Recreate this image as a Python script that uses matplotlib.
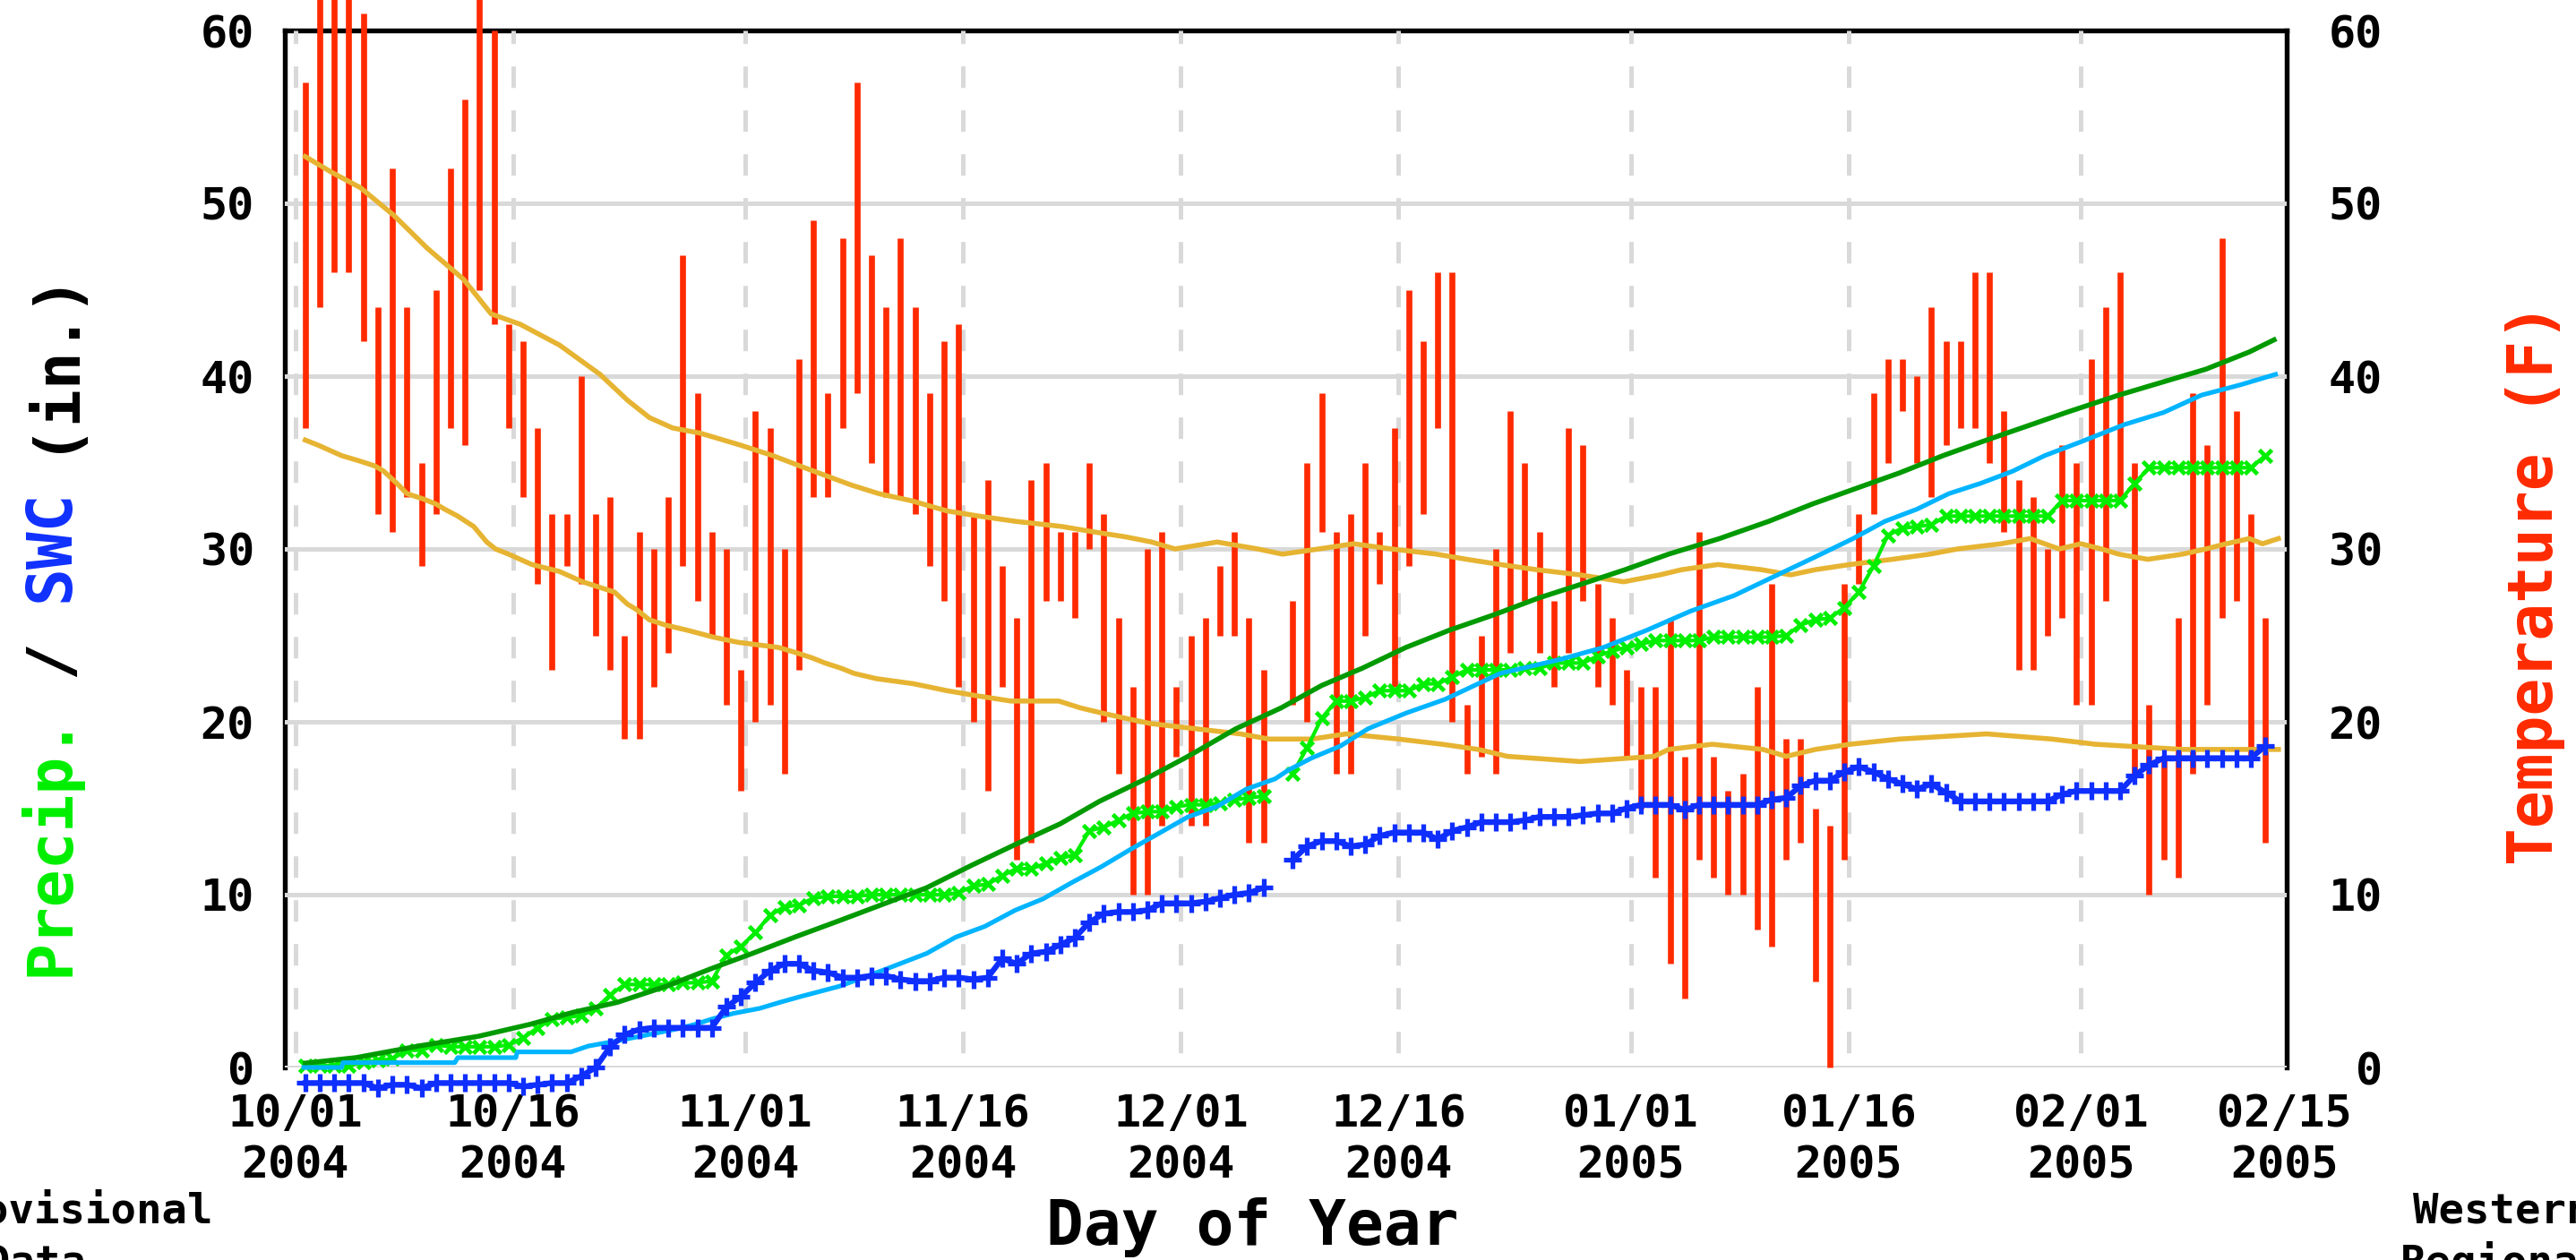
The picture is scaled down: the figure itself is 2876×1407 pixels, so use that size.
import numpy as np
import pandas as pd
import matplotlib
matplotlib.use("Agg")
import matplotlib.pyplot as plt

plt.rcParams['font.family'] = ['DejaVu Sans Mono']
plt.rcParams['font.weight'] = 'bold'

nan = np.nan

# ---- daily observations, 10/01/2004 .. 02/13/2005 ----
start = pd.Timestamp("2004-10-01")
obs_dates = pd.date_range(start, periods=136, freq="D")

tmax = [57, 64, 64, 64, 61, 44, 52, 44, 35, 45,
        52, 56, 64, 60, 43, 42, 37, 32, 32, 40,
        32, 33, 25, 31, 30, 33, 47, 39, 31, 30,
        23, 38, 37, 30, 41, 49, 39, 48, 57, 47,
        44, 48, 44, 39, 42, 43, 32, 34, 29, 26,
        34, 35, 31, 31, 35, 32, 26, 22, 30, 31,
        22, 25, 26, 29, 31, 26, 23, nan, 27, 35,
        39, 31, 32, 35, 31, 37, 45, 42, 46, 46,
        21, 25, 30, 38, 35, 31, 27, 37, 36, 28,
        26, 23, 22, 22, 26, 18, 31, 18, 16, 17,
        22, 28, 19, 19, 15, 14, 28, 32, 39, 41,
        41, 40, 44, 42, 42, 46, 46, 38, 34, 33,
        30, 36, 35, 41, 44, 46, 35, 21, 18, 26,
        39, 36, 48, 38, 32, 26]

tmin = [37, 44, 46, 46, 42, 32, 31, 33, 29, 32,
        37, 36, 45, 43, 37, 33, 28, 23, 29, 28,
        25, 23, 19, 19, 22, 24, 29, 27, 25, 21,
        16, 20, 21, 17, 23, 33, 33, 37, 39, 35,
        33, 33, 32, 29, 27, 22, 20, 16, 22, 12,
        13, 27, 27, 26, 30, 20, 17, 10, 10, 14,
        18, 14, 14, 25, 25, 13, 13, nan, 21, 20,
        31, 17, 17, 25, 28, 22, 29, 32, 37, 20,
        17, 18, 17, 24, 27, 24, 22, 24, 27, 22,
        21, 18, 15, 11, 6, 4, 12, 11, 10, 10,
        8, 7, 12, 13, 5, 0, 12, 28, 32, 35,
        38, 35, 33, 36, 37, 37, 35, 31, 23, 23,
        25, 26, 21, 21, 27, 33, 17, 10, 12, 11,
        17, 21, 26, 27, 18, 13]

precip = [0.1, 0.1, 0.1, 0.1, 0.3, 0.4, 0.5, 1.0, 1.0, 1.3,
          1.2, 1.2, 1.2, 1.2, 1.3, 1.7, 2.3, 2.8, 2.9, 3.0,
          3.4, 4.2, 4.8, 4.8, 4.8, 4.8, 4.9, 4.9, 5.0, 6.5,
          7.0, 7.8, 8.8, 9.3, 9.4, 9.8, 9.9, 9.9, 9.9, 10.0,
          10.0, 10.0, 10.0, 10.0, 10.0, 10.1, 10.5, 10.6, 11.1, 11.5,
          11.5, 11.8, 12.1, 12.3, 13.7, 13.9, 14.3, 14.7, 14.8, 14.8,
          15.1, 15.2, 15.2, 15.3, 15.5, 15.6, 15.7, nan, 17.0, 18.5,
          20.2, 21.2, 21.2, 21.4, 21.8, 21.8, 21.8, 22.2, 22.2, 22.6,
          23.0, 23.0, 23.0, 23.0, 23.1, 23.1, 23.4, 23.4, 23.4, 23.8,
          24.1, 24.3, 24.5, 24.7, 24.7, 24.7, 24.7, 24.9, 24.9, 24.9,
          24.9, 24.9, 25.0, 25.6, 25.9, 26.0, 26.6, 27.5, 29.0, 30.8,
          31.2, 31.3, 31.4, 31.9, 31.9, 31.9, 31.9, 31.9, 31.9, 31.9,
          31.9, 32.8, 32.8, 32.8, 32.8, 32.8, 33.8, 34.7, 34.7, 34.7,
          34.7, 34.7, 34.7, 34.7, 34.7, 35.4]

swe = [-0.9, -0.9, -0.9, -0.9, -0.9, -1.2, -1.0, -1.0, -1.2, -0.9,
       -0.9, -0.9, -0.9, -0.9, -0.9, -1.1, -1.0, -0.9, -0.9, -0.5,
       0.0, 1.2, 1.9, 2.2, 2.3, 2.3, 2.3, 2.3, 2.3, 3.5,
       4.1, 4.9, 5.6, 6.0, 6.0, 5.6, 5.5, 5.2, 5.2, 5.3,
       5.3, 5.1, 5.0, 5.0, 5.2, 5.2, 5.1, 5.2, 6.3, 6.0,
       6.6, 6.7, 7.1, 7.5, 8.4, 8.9, 9.0, 9.0, 9.1, 9.5,
       9.5, 9.5, 9.6, 9.8, 10.0, 10.1, 10.4, nan, 12.0, 12.8,
       13.1, 13.1, 12.8, 12.9, 13.4, 13.6, 13.6, 13.6, 13.2, 13.7,
       13.9, 14.2, 14.2, 14.2, 14.3, 14.5, 14.5, 14.5, 14.6, 14.7,
       14.7, 15.0, 15.2, 15.2, 15.2, 14.9, 15.2, 15.2, 15.2, 15.2,
       15.2, 15.5, 15.6, 16.3, 16.6, 16.6, 17.1, 17.4, 17.1, 16.7,
       16.4, 16.1, 16.4, 15.9, 15.4, 15.4, 15.4, 15.4, 15.4, 15.4,
       15.4, 15.8, 16.0, 16.0, 16.0, 16.0, 16.9, 17.5, 17.9, 17.9,
       17.9, 17.9, 17.9, 17.9, 17.9, 18.6]

# ---- normals (day = days after 10/01 00:00) ----
norm_tmax_day = [0.7, 2.5, 4.5, 6.8, 9.1, 11.6, 13.5, 15.5, 18.2, 21.0,
                 22.9, 24.4, 26.0, 27.9, 30.7, 32.9, 35.4, 38.3, 40.2, 42.4,
                 44.9, 47.1, 49.6, 52.8, 54.9, 57.2, 59.0, 60.6, 63.5, 66.3,
                 68.0, 70.5, 72.9, 75.5, 78.6, 80.7, 83.0, 85.5, 88.5, 91.5,
                 94.0, 95.5, 98.0, 101.0, 103.0, 104.7, 107.1, 110.0, 112.6, 114.5,
                 117.5, 119.5, 120.5, 121.5, 123.0, 124.4, 125.6, 127.6, 130.0, 131.6,
                 133.0, 134.6, 135.5, 136.6]
norm_tmax = [52.7, 51.8, 50.9, 49.3, 47.4, 45.6, 43.6, 43.0, 41.8, 40.1,
             38.6, 37.6, 37.0, 36.7, 36.0, 35.4, 34.6, 33.7, 33.2, 32.8,
             32.2, 31.9, 31.6, 31.3, 31.0, 30.7, 30.4, 30.0, 30.4, 30.0,
             29.7, 30.0, 30.3, 30.0, 29.7, 29.4, 29.1, 28.8, 28.5, 28.1,
             28.5, 28.8, 29.1, 28.8, 28.5, 28.8, 29.1, 29.4, 29.7, 30.0,
             30.3, 30.6, 30.3, 30.0, 30.3, 30.0, 29.7, 29.4, 29.7, 30.0,
             30.3, 30.6, 30.3, 30.6]

norm_tmin_day = [0.7, 1.6, 2.4, 3.2, 4.4, 5.5, 6.1, 7.0, 7.7, 8.8,
                 9.7, 10.3, 11.2, 12.3, 13.2, 13.8, 14.7, 16.3, 18.2, 19.8,
                 20.9, 22.0, 22.9, 23.5, 24.4, 25.5, 27.0, 28.8, 30.5, 33.3,
                 34.5, 35.6, 36.5, 37.6, 38.5, 40.0, 42.6, 44.9, 47.0, 49.3,
                 52.6, 54.1, 55.6, 57.2, 58.9, 62.0, 65.1, 67.1, 70.0, 72.4,
                 76.0, 79.0, 81.5, 83.5, 88.5, 93.6, 94.6, 97.6, 101.1, 102.7,
                 104.7, 107.1, 110.5, 116.5, 121.0, 124.0, 130.0, 136.6]
norm_tmin = [36.3, 36.0, 35.7, 35.4, 35.1, 34.8, 34.5, 33.8, 33.2, 32.9,
             32.6, 32.3, 31.9, 31.3, 30.4, 30.0, 29.7, 29.1, 28.7, 28.1,
             27.8, 27.5, 26.8, 26.5, 25.9, 25.6, 25.3, 24.9, 24.6, 24.3,
             24.0, 23.7, 23.4, 23.1, 22.8, 22.5, 22.2, 21.8, 21.5, 21.2,
             21.2, 20.8, 20.5, 20.2, 19.9, 19.6, 19.3, 19.0, 19.0, 19.3,
             19.0, 18.7, 18.4, 18.0, 17.7, 18.0, 18.4, 18.7, 18.4, 18.0,
             18.4, 18.7, 19.0, 19.3, 19.0, 18.7, 18.4, 18.4]

norm_pcp_day = [0.7, 4.2, 8.5, 12.6, 16.2, 19.1, 22.2, 25.6, 28.6, 31.5,
                34.5, 37.5, 40.6, 43.5, 46.6, 49.6, 52.7, 55.4, 58.6, 61.5,
                64.8, 67.9, 70.7, 73.5, 76.5, 79.5, 82.6, 85.6, 88.0, 91.6,
                94.6, 98.1, 101.5, 104.5, 107.5, 110.5, 113.5, 116.5, 119.6, 122.0,
                125.6, 128.0, 131.6, 134.6, 136.3]
norm_pcp = [0.25, 0.57, 1.24, 1.8, 2.5, 3.18, 3.77, 4.71, 5.7, 6.6,
            7.57, 8.5, 9.48, 10.4, 11.7, 12.9, 14.1, 15.4, 16.7, 18.0,
            19.6, 20.8, 22.1, 23.1, 24.3, 25.3, 26.2, 27.15, 27.8, 28.8,
            29.7, 30.6, 31.6, 32.6, 33.5, 34.4, 35.4, 36.3, 37.2, 37.9,
            38.9, 39.5, 40.4, 41.4, 42.1]

norm_swe_day = [0.6, 3.2, 3.3, 11.0, 11.2, 15.2, 15.3, 19.0, 20.2, 22.2,
                24.1, 26.0, 27.5, 28.7, 30.2, 32.0, 33.4, 34.8, 37.5, 40.6,
                43.5, 45.5, 47.5, 49.6, 51.5, 53.5, 55.5, 57.5, 59.5, 61.5,
                63.5, 65.5, 67.5, 68.4, 70.0, 72.0, 73.9, 76.5, 79.2, 83.0,
                87.1, 90.1, 93.1, 96.1, 99.1, 102.1, 105.1, 107.3, 109.5, 111.7,
                113.9, 116.1, 118.3, 120.5, 123.0, 126.0, 128.7, 131.3, 134.0, 136.4]
norm_swe = [0.0, 0.0, 0.28, 0.28, 0.57, 0.57, 0.9, 0.9, 1.24, 1.54,
            1.86, 2.18, 2.48, 2.8, 3.13, 3.42, 3.77, 4.1, 4.7, 5.66,
            6.6, 7.54, 8.16, 9.1, 9.75, 10.7, 11.6, 12.6, 13.55, 14.5,
            15.1, 16.1, 16.7, 17.2, 17.9, 18.6, 19.6, 20.5, 21.3, 22.8,
            23.6, 24.3, 25.3, 26.4, 27.3, 28.5, 29.7, 30.6, 31.6, 32.3,
            33.2, 33.8, 34.5, 35.4, 36.2, 37.2, 37.9, 38.9, 39.5, 40.1]

tick_dates = pd.to_datetime(["2004-10-01", "2004-10-16", "2004-11-01", "2004-11-16",
                             "2004-12-01", "2004-12-16", "2005-01-01", "2005-01-16",
                             "2005-02-01", "2005-02-15"])
y_ticks = [0, 10, 20, 30, 40, 50, 60]

# colours
RED = '#ff2a00'
GOLD = '#e6b432'
DKGREEN = '#009a00'
LTBLUE = '#00b4ff'
GREEN = '#00ee00'
BLUE = '#0f2fff'
GRID = '#d9d9d9'

W, H = 2876, 1407
def fx(px):
    return px / W
def fy(py):
    return 1 - py / H

fig = plt.figure(figsize=(W / 100, H / 100), dpi=100)
ax = fig.add_axes([318 / W, 215 / H, 2235 / W, 1158 / H])

x_obs = np.asarray((obs_dates - start).days, dtype=float) + 0.7
tick_pos = np.asarray((tick_dates - start).days, dtype=float)
tick_labels = [d.strftime("%m/%d\n%Y") for d in tick_dates]

tmax_a = np.array(tmax, dtype=float)
tmin_a = np.array(tmin, dtype=float)
ok = ~np.isnan(tmax_a)

# grid (drawn over the spines, like the original)
for v in y_ticks[:-1]:
    ax.axhline(v, color=GRID, lw=3.6, zorder=1)
ax.vlines(tick_pos[:-1], 60, 0, colors=GRID, lw=3.6,
          linestyles=(1.86, (4.8, 5.0)), zorder=1)

# temperature bars
ax.vlines(x_obs[ok], tmin_a[ok], tmax_a[ok], colors=RED, lw=4.8,
          zorder=2, clip_on=False)

# normals
ax.plot(norm_tmax_day, norm_tmax, color=GOLD, lw=4.0, zorder=3)
ax.plot(norm_tmin_day, norm_tmin, color=GOLD, lw=4.0, zorder=3)

ax.plot(x_obs, precip, color=GREEN, lw=3.0, marker='x', ms=10, mew=3.4,
        zorder=4, clip_on=False)
ax.plot(norm_pcp_day, norm_pcp, color=DKGREEN, lw=4.0, zorder=5)
ax.plot(norm_swe_day, norm_swe, color=LTBLUE, lw=3.7, zorder=6, clip_on=False)
ax.plot(x_obs, swe, color=BLUE, lw=4.5, marker='+', ms=15, mew=3.8,
        zorder=7, clip_on=False)

ax.set_xlim(-0.71, 137.17)
ax.set_ylim(0, 60)

ax.set_xticks(tick_pos)
ax.set_xticklabels(tick_labels, fontsize=36, linespacing=1.25)
ax.tick_params(axis='x', length=0, pad=20)
ax.set_yticks(y_ticks)
ax.tick_params(axis='y', length=0, pad=24.5, labelsize=36)

ax.spines['bottom'].set_visible(False)
for s in ['left', 'right', 'top']:
    ax.spines[s].set_linewidth(3.9)
    ax.spines[s].set_color('black')
    ax.spines[s].set_zorder(0.5)

ax2 = ax.twinx()
ax2.set_ylim(0, 60)
ax2.set_yticks(y_ticks)
ax2.tick_params(axis='y', length=0, pad=77, labelsize=36)
for lab in ax2.get_yticklabels():
    lab.set_horizontalalignment('right')
for s in ax2.spines.values():
    s.set_visible(False)

# left axis label in coloured pieces; monospace, so each piece starts
# a whole number of character widths further up
lab_fs = 50
adv = 0.6021 * lab_fs / 72 * 100
lab_kw = dict(rotation=90, rotation_mode='anchor', ha='left', va='baseline',
              fontsize=lab_fs, fontweight='bold')
for piece, col, n in [("Precip.", GREEN, 0), ("/", 'black', 8),
                      ("SWC", '#1030ff', 10), ("(in.)", 'black', 14)]:
    fig.text(fx(77), fy(1090 - n * adv), piece, color=col, **lab_kw)

fig.text(fx(2850), fy(966), "Temperature (F)", color=RED, **lab_kw)

fig.text(fx(1398), fy(1390), "Day of Year", ha='center', va='baseline',
         fontsize=50, fontweight='bold')

# corner notes (cut by the image edge, as in the original)
note_kw = dict(ha='center', va='baseline', fontsize=34, fontweight='bold')
fig.text(fx(81), fy(1365), "Provisional", **note_kw)
fig.text(fx(40), fy(1424), "Data", **note_kw)
fig.text(fx(2794), fy(1365), "Western", **note_kw)
fig.text(fx(2794), fy(1424), "Regional", **note_kw)

fig.savefig("out.png", dpi=100)
